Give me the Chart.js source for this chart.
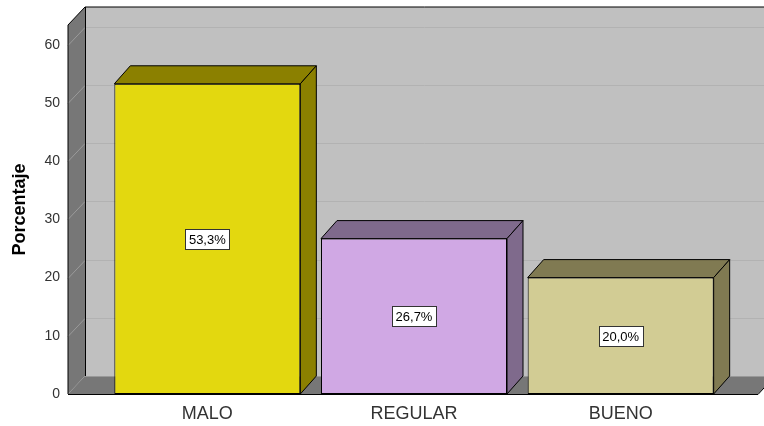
<!DOCTYPE html>
<html>
<head>
<meta charset="utf-8">
<script src="https://cdn.jsdelivr.net/npm/chart.js@4/dist/chart.umd.min.js"></script>
<style>
  html, body { margin: 0; padding: 0; background: #fff; }
  #wrap { position: relative; width: 764px; height: 426px; }
</style>
</head>
<body>
<div id="wrap"><canvas id="chart"></canvas></div>
<script>
// Data
const categories = ['MALO', 'REGULAR', 'BUENO'];
const porcentajes = [53.3, 26.7, 20.0];
const frontColors = ['#e3d80f', '#d0a8e4', '#d2cc94'];
const shadeColors = ['#8b8000', '#7f6a8c', '#807a52'];

// depth offsets for the fake 3D look
const WALL_DX = 17, WALL_DY = 18;
const BAR_DX = 16, BAR_DY = 18;

const fmt = v => v.toFixed(1).replace('.', ',') + '%';

const walls = {
    id: 'walls',
    beforeDatasetsDraw(chart) {
        const { ctx, chartArea: ca, scales: { y } } = chart;
        const L = ca.left - 36, R = ca.right + 34;
        const W = chart.width;
        ctx.save();
        // back wall
        ctx.fillStyle = '#c0c0c0';
        ctx.fillRect(L + WALL_DX, ca.top - WALL_DY, W - (L + WALL_DX), ca.bottom - ca.top);
        // left wall
        ctx.fillStyle = '#777777';
        ctx.beginPath();
        ctx.moveTo(L, ca.top);
        ctx.lineTo(L + WALL_DX, ca.top - WALL_DY);
        ctx.lineTo(L + WALL_DX, ca.bottom - WALL_DY);
        ctx.lineTo(L, ca.bottom);
        ctx.closePath();
        ctx.fill();
        // floor
        ctx.beginPath();
        ctx.moveTo(L, ca.bottom);
        ctx.lineTo(L + WALL_DX, ca.bottom - WALL_DY);
        ctx.lineTo(R + WALL_DX, ca.bottom - WALL_DY);
        ctx.lineTo(R, ca.bottom);
        ctx.closePath();
        ctx.fill();
        // grid lines
        ctx.lineWidth = 1;
        y.ticks.forEach(t => {
            if (t.value === 0) return;
            const py = Math.round(y.getPixelForValue(t.value)) + 0.5;
            ctx.strokeStyle = '#b2b2b2';
            ctx.beginPath();
            ctx.moveTo(L + WALL_DX, py - WALL_DY);
            ctx.lineTo(W, py - WALL_DY);
            ctx.stroke();
            ctx.strokeStyle = '#9a9a9a';
            ctx.beginPath();
            ctx.moveTo(L, py);
            ctx.lineTo(L + WALL_DX, py - WALL_DY);
            ctx.stroke();
        });
        // edges
        ctx.strokeStyle = '#000';
        ctx.beginPath();
        ctx.moveTo(L, ca.bottom);
        ctx.lineTo(L, ca.top);
        ctx.lineTo(L + WALL_DX, ca.top - WALL_DY);
        ctx.lineTo(W, ca.top - WALL_DY);
        ctx.moveTo(L + WALL_DX + 0.5, ca.top - WALL_DY);
        ctx.lineTo(L + WALL_DX + 0.5, ca.bottom - WALL_DY);
        ctx.moveTo(L, ca.bottom + 0.5);
        ctx.lineTo(R, ca.bottom + 0.5);
        ctx.lineTo(R + WALL_DX, ca.bottom - WALL_DY);
        ctx.stroke();
        ctx.strokeStyle = '#999';
        ctx.beginPath();
        ctx.moveTo(L + WALL_DX, ca.bottom - WALL_DY + 0.5);
        ctx.lineTo(W, ca.bottom - WALL_DY + 0.5);
        ctx.stroke();
        ctx.restore();
    },
    afterDatasetsDraw(chart) {
        const { ctx } = chart;
        const meta = chart.getDatasetMeta(0);
        ctx.save();
        ctx.lineWidth = 1;
        ctx.strokeStyle = '#000';
        meta.data.forEach((bar, i) => {
            const l = bar.x - bar.width / 2, r = bar.x + bar.width / 2;
            const top = bar.y, base = bar.base;
            ctx.fillStyle = shadeColors[i];
            // top face
            ctx.beginPath();
            ctx.moveTo(l, top);
            ctx.lineTo(l + BAR_DX, top - BAR_DY);
            ctx.lineTo(r + BAR_DX, top - BAR_DY);
            ctx.lineTo(r, top);
            ctx.closePath();
            ctx.fill();
            ctx.stroke();
            // side face
            ctx.beginPath();
            ctx.moveTo(r, top);
            ctx.lineTo(r + BAR_DX, top - BAR_DY);
            ctx.lineTo(r + BAR_DX, base - BAR_DY);
            ctx.lineTo(r, base);
            ctx.closePath();
            ctx.fill();
            ctx.stroke();
            // value label
            const txt = fmt(porcentajes[i]);
            ctx.font = '13px "Liberation Sans", Arial, sans-serif';
            const tw = ctx.measureText(txt).width;
            const bw = Math.round(tw + 7), bh = 20;
            const bx = Math.round(bar.x - bw / 2) + 0.5, by = Math.round((top + base) / 2 - bh / 2) + 0.5;
            ctx.fillStyle = '#fff';
            ctx.fillRect(bx, by, bw, bh);
            ctx.strokeStyle = '#333';
            ctx.strokeRect(bx, by, bw, bh);
            ctx.strokeStyle = '#000';
            ctx.fillStyle = '#000';
            ctx.textAlign = 'center';
            ctx.textBaseline = 'middle';
            ctx.fillText(txt, bar.x, by + bh / 2 + 0.5);
        });
        ctx.restore();
    }
};

new Chart(document.getElementById('chart'), {
    type: 'bar',
    data: {
        labels: categories,
        datasets: [{
            data: porcentajes,
            backgroundColor: frontColors,
            borderColor: '#000',
            borderWidth: 1,
            borderSkipped: false,
            categoryPercentage: 1.0,
            barPercentage: 0.9
        }]
    },
    options: {
        responsive: true,
        maintainAspectRatio: false,
        animation: false,
        layout: { padding: { top: 25, right: 40, bottom: 0, left: 0 } },
        plugins: {
            legend: { display: false },
            tooltip: { enabled: false }
        },
        scales: {
            x: {
                grid: { display: false, drawTicks: false },
                border: { display: false },
                ticks: {
                    padding: 9,
                    color: '#333',
                    font: { family: '"Liberation Sans", Arial, sans-serif', size: 18 }
                },
                afterFit(scale) { scale.height = 32; }
            },
            y: {
                min: 0,
                max: 63.4,
                grid: { display: false, drawTicks: false },
                border: { display: false },
                ticks: {
                    stepSize: 10,
                    padding: 44,
                    color: '#333',
                    font: { family: '"Liberation Sans", Arial, sans-serif', size: 14 }
                },
                afterBuildTicks(scale) {
                    scale.ticks = scale.ticks.filter(t => t.value % 10 === 0);
                },
                afterFit(scale) {
                    scale.width = 104;
                    // tick padding is horizontal here, don't let it push the plot down
                    scale.paddingTop = 0;
                    scale.paddingBottom = 0;
                },
                title: {
                    display: true,
                    text: 'Porcentaje',
                    color: '#000',
                    padding: { top: 9, bottom: 0 },
                    font: { family: '"Liberation Sans", Arial, sans-serif', size: 18, weight: 'bold' }
                }
            }
        }
    },
    plugins: [walls]
});
</script>
</body>
</html>
